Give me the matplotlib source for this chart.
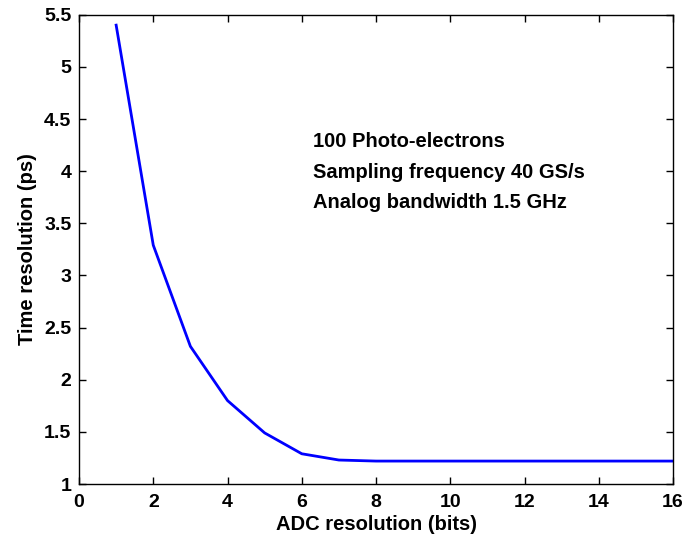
import matplotlib
matplotlib.use("Agg")
import matplotlib.pyplot as plt

plt.rcParams.update({
    "font.family": ["Liberation Sans", "DejaVu Sans"],
    "font.weight": "bold",
    "font.size": 14,
})

# ADC resolution (bits) vs time resolution (ps)
bits = [1, 2, 3, 4, 5, 6, 7, 8, 9, 10, 11, 12, 13, 14, 15, 16]
time_res = [5.40, 3.29, 2.32, 1.80, 1.49, 1.29, 1.23, 1.22, 1.22, 1.22,
            1.22, 1.22, 1.22, 1.22, 1.22, 1.22]

notes = ["100 Photo-electrons",
         "Sampling frequency 40 GS/s",
         "Analog bandwidth 1.5 GHz"]

fig = plt.figure(figsize=(6.83, 5.35), dpi=100)
ax = fig.add_axes([0.1157, 0.0953, 0.8697, 0.8772])

ax.plot(bits, time_res, color="#0000ff", lw=2.0)

ax.set_xlim(0, 16)
ax.set_ylim(1, 5.5)
ax.set_xticks(range(0, 17, 2))
ax.set_yticks([1, 1.5, 2, 2.5, 3, 3.5, 4, 4.5, 5, 5.5])
ax.set_yticklabels(["1", "1.5", "2", "2.5", "3", "3.5", "4", "4.5", "5", "5.5"])
ax.tick_params(direction="in", length=5, width=1, top=True, right=True,
               labelsize=14)
ax.tick_params(axis="x", pad=7)
ax.tick_params(axis="y", pad=5.5)
for s in ax.spines.values():
    s.set_linewidth(1)

ax.set_xlabel("ADC resolution (bits)", fontsize=14.5, fontweight="bold", labelpad=3)
ax.set_ylabel("Time resolution (ps)", fontsize=14.5, fontweight="bold", labelpad=5)

for i, t in enumerate(notes):
    ax.text(6.3, 4.28 - 0.29 * i, t, fontsize=14.5, fontweight="bold",
            ha="left", va="center")

fig.savefig("out.png", dpi=100)
